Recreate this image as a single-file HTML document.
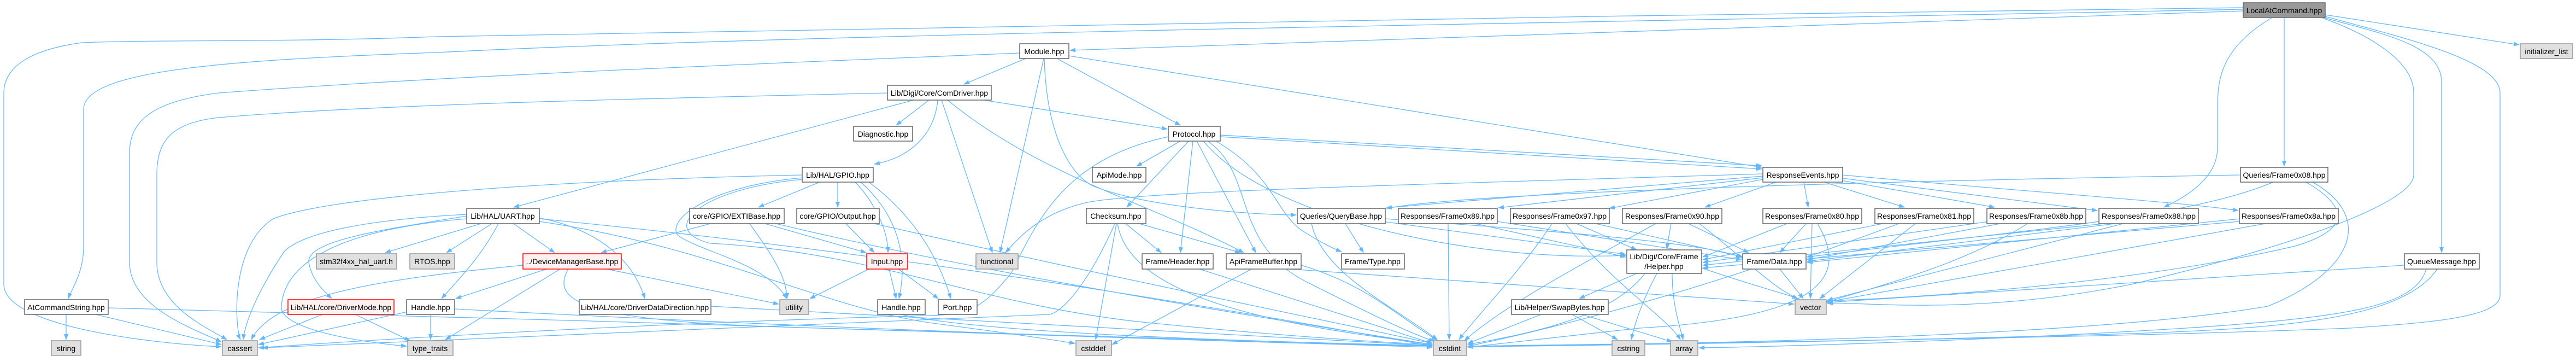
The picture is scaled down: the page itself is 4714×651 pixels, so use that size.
<!DOCTYPE html>
<html><head><meta charset="utf-8">
<style>
html,body{margin:0;padding:0;background:#fff;}
svg{display:block;}
text{font-family:"Liberation Sans",Arial,sans-serif;font-size:14px;fill:#000;text-anchor:middle;}
.e{fill:none;stroke:#63b8ff;stroke-width:1.3;marker-end:url(#a);}
.n{fill:#fff;stroke:#666;stroke-width:1.5;}
.g{fill:#e0e0e0;stroke:#999;stroke-width:1.5;}
.r{fill:#fff0f0;stroke:#ff0000;stroke-width:1.5;}
.m{fill:#999;stroke:#666;stroke-width:1.5;}
</style></head><body>
<svg width="4714" height="651" viewBox="0 0 4714 651" xmlns="http://www.w3.org/2000/svg">
<defs><marker id="a" markerWidth="11" markerHeight="8" refX="10" refY="4" orient="auto" markerUnits="userSpaceOnUse"><path d="M0,0 L11,4 L0,8 z" fill="#63b8ff"/></marker></defs>
<g>
<!-- LocalAtCommand edges -->
<path class="e" d="M4105,20 L1958,92"/>
<path class="e" d="M4105,17 C3000,40 1500,60 800,96 C400,110 153,130 153,200 L153,450 C153,500 130,530 125,546"/>
<path class="e" d="M4105,14 C3000,30 1600,44 800,67 C500,78 300,72 150,78 C60,90 7,120 7,170 L7,520 C7,600 300,630 405,634"/>
<path class="e" d="M4180,32 L4180,304"/>
<path class="e" d="M4158,32 C4060,90 4058,150 4058,200 L4058,270 C4058,330 3990,365 3960,379"/>
<path class="e" d="M4252,32 C4350,60 4468,80 4468,150 L4468,462"/>
<path class="e" d="M4255,27 L4610,82"/>
<path class="e" d="M4250,33 C4300,50 4417,100 4417,170 L4417,320 C4417,370 4200,450 3900,520 C3600,580 3400,550 3344,555"/>
<path class="e" d="M4255,30 C4400,70 4575,110 4575,170 L4575,540 C4575,580 4450,590 4300,600 C3800,620 3000,628 2686,633"/>
<!-- Module -->
<path class="e" d="M1877,107 L1764,154"/>
<path class="e" d="M1910,107 L1830,462"/>
<path class="e" d="M1934,107 L2160,229"/>
<path class="e" d="M1956,102 L3224,306"/>
<path class="e" d="M1911,107 C1915,250 1960,320 2000,340 C2100,380 2300,393 2372,393"/>
<path class="e" d="M1866,97 C1300,120 800,140 400,170 C280,185 237,220 237,280 L237,480 C237,560 350,600 405,625"/>
<!-- ComDriver -->
<path class="e" d="M1624,170 C1200,180 700,190 400,215 C310,225 287,260 287,320 L287,480 C287,560 380,600 415,621"/>
<path class="e" d="M1700,183 L1640,229"/>
<path class="e" d="M1672,183 L940,379"/>
<path class="e" d="M1716,183 C1710,250 1660,290 1600,300"/>
<path class="e" d="M1723,183 L1816,462"/>
<path class="e" d="M1734,183 C1900,320 2100,370 2276,462"/>
<path class="e" d="M1800,183 L2136,236"/>
<!-- Protocol -->
<path class="e" d="M2160,258 L2080,304"/>
<path class="e" d="M2175,258 L2062,379"/>
<path class="e" d="M2183,258 L2160,462"/>
<path class="e" d="M2190,258 L2298,462"/>
<path class="e" d="M2202,258 C2320,400 2700,480 2975,467"/>
<path class="e" d="M2225,258 C2330,320 2330,380 2380,420 C2420,445 2440,455 2455,460"/>
<path class="e" d="M2233,247 L3224,303"/>
<path class="e" d="M2233,250 L3224,309"/>
<path class="e" d="M2138,250 C1950,290 1900,400 1850,500 C1800,560 1780,575 1700,577 C1200,590 700,620 473,636"/>
<path class="e" d="M2210,258 C2300,320 2250,450 2400,520 C2500,570 2580,610 2625,624"/>
<!-- GPIO -->
<path class="e" d="M1468,320 C1000,330 600,360 500,400 C420,450 430,600 440,621"/>
<path class="e" d="M1500,333 L1388,379"/>
<path class="e" d="M1533,333 L1533,379"/>
<path class="e" d="M1565,333 C1600,370 1625,420 1625,462"/>
<path class="e" d="M1575,333 C1650,400 1660,480 1645,546"/>
<path class="e" d="M1590,333 C1680,400 1720,480 1740,546"/>
<path class="e" d="M1468,325 C1300,340 1220,400 1240,430 C1280,460 1400,480 1440,546"/>
<path class="e" d="M1468,328 C1280,345 1200,420 1300,445 C1600,460 1800,560 2100,590 C2300,610 2500,625 2621,630"/>
<!-- UART -->
<path class="e" d="M880,409 L705,462"/>
<path class="e" d="M900,409 L817,462"/>
<path class="e" d="M854,395 C700,420 560,440 565,480 C570,510 590,530 607,546"/>
<path class="e" d="M940,409 L1015,462"/>
<path class="e" d="M912,409 C880,470 840,510 808,546"/>
<path class="e" d="M985,398 C1100,420 1160,480 1180,546"/>
<path class="e" d="M854,392 C700,400 560,420 520,460 C480,520 450,580 445,621"/>
<path class="e" d="M854,400 C620,420 520,480 515,560 C510,600 650,625 744,633"/>
<path class="e" d="M987,400 C1500,450 2000,520 2621,633"/>
<path class="e" d="M987,405 C1300,450 1500,560 1700,590 C1850,610 1920,620 1967,628"/>
<!-- EXTIBase / Output -->
<path class="e" d="M1300,409 L1100,462"/>
<path class="e" d="M1400,409 L1585,462"/>
<path class="e" d="M1372,409 C1400,450 1440,500 1440,546"/>
<path class="e" d="M1420,409 C1800,500 2300,580 2621,630"/>
<path class="e" d="M1548,409 L1600,462"/>
<path class="e" d="M1600,409 C2000,500 2400,580 2621,628"/>
<!-- DeviceManagerBase -->
<path class="e" d="M1000,492 L834,546"/>
<path class="e" d="M1025,492 L815,621"/>
<path class="e" d="M1110,492 L1425,556"/>
<path class="e" d="M957,485 C700,510 500,540 460,621"/>
<path class="e" d="M1040,492 C1000,560 1100,590 1500,600 L2621,633"/>
<!-- Input -->
<path class="e" d="M1627,492 L1640,546"/>
<path class="e" d="M1644,492 L1717,546"/>
<path class="e" d="M1590,492 L1482,546"/>
<!-- row 548 -->
<path class="e" d="M590,575 L475,621"/>
<path class="e" d="M650,575 L750,623"/>
<path class="e" d="M746,570 L473,630"/>
<path class="e" d="M788,575 L788,621"/>
<path class="e" d="M832,565 C1500,600 2200,625 2621,633"/>
<path class="e" d="M121,575 L121,621"/>
<path class="e" d="M175,575 L405,630"/>
<path class="e" d="M198,563 C1000,580 2000,620 2621,635"/>
<path class="e" d="M1301,560 L2621,632"/>
<path class="e" d="M1650,575 C1800,610 2300,625 2621,632"/>
<!-- Checksum / Header / ApiFrameBuffer -->
<path class="e" d="M2060,409 L2125,462"/>
<path class="e" d="M2085,409 L2270,462"/>
<path class="e" d="M2043,409 L2005,621"/>
<path class="e" d="M2040,409 C2000,500 1950,570 1920,575 L480,636"/>
<path class="e" d="M2045,409 C2070,560 2400,600 2621,630"/>
<path class="e" d="M2195,492 L2621,628"/>
<path class="e" d="M2290,492 L2035,630"/>
<path class="e" d="M2360,492 C2800,520 3200,550 3283,556"/>
<path class="e" d="M2381,485 C2500,520 2560,580 2630,622"/>
<!-- QueryBase -->
<path class="e" d="M2462,409 L2495,462"/>
<path class="e" d="M2535,400 C2800,420 3100,440 3187,470"/>
<path class="e" d="M2530,405 L2975,465"/>
<path class="e" d="M2400,409 C2420,500 2550,560 2630,621"/>
<!-- ResponseEvents -->
<path class="e" d="M3301,333 L3309,379"/>
<path class="e" d="M3338,333 L3485,379"/>
<path class="e" d="M3370,330 L3650,379"/>
<path class="e" d="M3372,326 L3838,385"/>
<path class="e" d="M3372,320 C3700,350 4000,370 4096,385"/>
<path class="e" d="M3250,333 L3120,379"/>
<path class="e" d="M3226,328 L2945,381"/>
<path class="e" d="M3226,325 L2742,380"/>
<path class="e" d="M3226,322 L2537,380"/>
<path class="e" d="M3226,318 C2500,340 2100,350 1990,370 C1900,390 1860,440 1840,462"/>
<!-- Queries/Frame0x08 -->
<path class="e" d="M4100,320 C3500,330 2700,350 2537,381"/>
<path class="e" d="M4160,333 C4000,400 3700,420 3307,470"/>
<path class="e" d="M4220,333 C4300,380 4300,420 4200,450 C3900,520 3500,545 3344,550"/>
<path class="e" d="M4232,333 C4350,400 4300,500 4150,560 C3800,620 3000,630 2686,634"/>
<!-- QueueMessage -->
<path class="e" d="M4400,485 L3344,553"/>
<path class="e" d="M4460,492 C4400,580 4200,600 3900,610 C3400,625 2900,632 2686,634"/>
<path class="e" d="M4440,492 C4420,560 4300,580 4000,600 C3600,625 3200,635 3109,636"/>
<!-- Responses frames -->
<path class="e" d="M2700,409 L2975,470"/>
<path class="e" d="M2740,405 L3187,475"/>
<path class="e" d="M2650,409 L2652,621"/>
<path class="e" d="M2840,409 C2780,500 2700,580 2670,621"/>
<path class="e" d="M2885,409 L2995,457"/>
<path class="e" d="M2920,409 L3190,470"/>
<path class="e" d="M2865,409 C2950,520 3050,580 3075,621"/>
<path class="e" d="M3058,409 L3050,455"/>
<path class="e" d="M3090,409 L3200,462"/>
<path class="e" d="M3030,409 C2900,480 2750,560 2680,623"/>
<path class="e" d="M3110,409 C3200,480 3250,530 3290,546"/>
<path class="e" d="M3305,409 L3257,462"/>
<path class="e" d="M3316,409 L3313,546"/>
<path class="e" d="M3270,409 L3116,470"/>
<path class="e" d="M3326,409 C3380,500 3350,580 3000,600 L2686,635"/>
<path class="e" d="M3475,409 L3307,470"/>
<path class="e" d="M3445,409 L3116,475"/>
<path class="e" d="M3505,409 L3330,546"/>
<path class="e" d="M3660,409 L3307,475"/>
<path class="e" d="M3640,405 L3116,480"/>
<path class="e" d="M3710,409 C3600,480 3450,520 3340,553"/>
<path class="e" d="M3870,409 L3307,478"/>
<path class="e" d="M3850,409 L3116,485"/>
<path class="e" d="M3885,409 L3344,549"/>
<path class="e" d="M4100,400 L3307,480"/>
<path class="e" d="M4098,405 L3116,490"/>
<path class="e" d="M4145,409 L3344,552"/>
<!-- Helper / SwapBytes / Data -->
<path class="e" d="M2995,500 L2890,546"/>
<path class="e" d="M3032,500 C3000,560 2990,600 2985,621"/>
<path class="e" d="M3010,500 C2950,580 2800,610 2686,630"/>
<path class="e" d="M3060,500 C3060,560 3075,600 3080,621"/>
<path class="e" d="M3114,490 C3200,520 3260,535 3290,546"/>
<path class="e" d="M2820,575 L2686,628"/>
<path class="e" d="M2877,575 L2960,621"/>
<path class="e" d="M2895,575 L3060,625"/>
<path class="e" d="M3257,492 L3300,546"/>
<path class="e" d="M3205,492 C3000,560 2800,610 2686,633"/>
</g>
<g>
<rect class="m" x="4105" y="5" width="150" height="27"/><text x="4180" y="24">LocalAtCommand.hpp</text>
<rect class="n" x="1866" y="80" width="90" height="27"/><text x="1911" y="99">Module.hpp</text>
<rect class="g" x="4612" y="80" width="96" height="27"/><text x="4660" y="99">initializer_list</text>
<rect class="n" x="1624" y="156" width="190" height="27"/><text x="1719" y="175">Lib/Digi/Core/ComDriver.hpp</text>
<rect class="n" x="1562" y="231" width="108" height="27"/><text x="1616" y="250">Diagnostic.hpp</text>
<rect class="n" x="2138" y="231" width="95" height="27"/><text x="2185" y="250">Protocol.hpp</text>
<rect class="n" x="1468" y="306" width="130" height="27"/><text x="1533" y="325">Lib/HAL/GPIO.hpp</text>
<rect class="n" x="1999" y="306" width="98" height="27"/><text x="2048" y="325">ApiMode.hpp</text>
<rect class="n" x="3226" y="306" width="146" height="27"/><text x="3299" y="325">ResponseEvents.hpp</text>
<rect class="n" x="4100" y="306" width="160" height="27"/><text x="4180" y="325">Queries/Frame0x08.hpp</text>
<rect class="n" x="854" y="381" width="133" height="28"/><text x="920" y="400">Lib/HAL/UART.hpp</text>
<rect class="n" x="1262" y="381" width="173" height="28"/><text x="1348" y="400">core/GPIO/EXTIBase.hpp</text>
<rect class="n" x="1458" y="381" width="151" height="28"/><text x="1533" y="400">core/GPIO/Output.hpp</text>
<rect class="n" x="1988" y="381" width="109" height="28"/><text x="2042" y="400">Checksum.hpp</text>
<rect class="n" x="2374" y="381" width="161" height="28"/><text x="2454" y="400">Queries/QueryBase.hpp</text>
<rect class="n" x="2559" y="381" width="181" height="28"/><text x="2649" y="400">Responses/Frame0x89.hpp</text>
<rect class="n" x="2764" y="381" width="181" height="28"/><text x="2854" y="400">Responses/Frame0x97.hpp</text>
<rect class="n" x="2969" y="381" width="182" height="28"/><text x="3060" y="400">Responses/Frame0x90.hpp</text>
<rect class="n" x="3226" y="381" width="181" height="28"/><text x="3316" y="400">Responses/Frame0x80.hpp</text>
<rect class="n" x="3431" y="381" width="181" height="28"/><text x="3521" y="400">Responses/Frame0x81.hpp</text>
<rect class="n" x="3636" y="381" width="181" height="28"/><text x="3726" y="400">Responses/Frame0x8b.hpp</text>
<rect class="n" x="3841" y="381" width="182" height="28"/><text x="3932" y="400">Responses/Frame0x88.hpp</text>
<rect class="n" x="4098" y="381" width="181" height="28"/><text x="4188" y="400">Responses/Frame0x8a.hpp</text>
<rect class="g" x="579" y="464" width="147" height="28"/><text x="652" y="483">stm32f4xx_hal_uart.h</text>
<rect class="g" x="750" y="464" width="82" height="28"/><text x="791" y="483">RTOS.hpp</text>
<rect class="r" x="957" y="464" width="180" height="28"/><text x="1047" y="483">../DeviceManagerBase.hpp</text>
<rect class="r" x="1586" y="464" width="75" height="28"/><text x="1623" y="483">Input.hpp</text>
<rect class="g" x="1786" y="464" width="77" height="28"/><text x="1824" y="483">functional</text>
<rect class="n" x="2090" y="464" width="130" height="28"/><text x="2155" y="483">Frame/Header.hpp</text>
<rect class="n" x="2244" y="464" width="137" height="28"/><text x="2312" y="483">ApiFrameBuffer.hpp</text>
<rect class="n" x="2455" y="464" width="115" height="28"/><text x="2512" y="483">Frame/Type.hpp</text>
<rect class="n" x="2977" y="457" width="137" height="43"/><text x="3045" y="474">Lib/Digi/Core/Frame</text><text x="3045" y="492">/Helper.hpp</text>
<rect class="n" x="3189" y="464" width="116" height="28"/><text x="3247" y="483">Frame/Data.hpp</text>
<rect class="n" x="4400" y="464" width="137" height="28"/><text x="4468" y="483">QueueMessage.hpp</text>
<rect class="n" x="45" y="548" width="153" height="27"/><text x="121" y="567">AtCommandString.hpp</text>
<rect class="r" x="527" y="548" width="194" height="27"/><text x="624" y="567">Lib/HAL/core/DriverMode.hpp</text>
<rect class="n" x="744" y="548" width="88" height="27"/><text x="788" y="567">Handle.hpp</text>
<rect class="n" x="1060" y="548" width="241" height="27"/><text x="1180" y="567">Lib/HAL/core/DriverDataDirection.hpp</text>
<rect class="g" x="1427" y="548" width="53" height="27"/><text x="1453" y="567">utility</text>
<rect class="n" x="1606" y="548" width="87" height="27"/><text x="1649" y="567">Handle.hpp</text>
<rect class="n" x="1717" y="548" width="71" height="27"/><text x="1752" y="567">Port.hpp</text>
<rect class="n" x="2766" y="548" width="177" height="27"/><text x="2854" y="567">Lib/Helper/SwapBytes.hpp</text>
<rect class="g" x="3285" y="548" width="57" height="27"/><text x="3313" y="567">vector</text>
<rect class="g" x="94" y="623" width="54" height="27"/><text x="121" y="642">string</text>
<rect class="g" x="407" y="623" width="64" height="27"/><text x="439" y="642">cassert</text>
<rect class="g" x="746" y="623" width="83" height="27"/><text x="787" y="642">type_traits</text>
<rect class="g" x="1969" y="623" width="65" height="27"/><text x="2001" y="642">cstddef</text>
<rect class="g" x="2623" y="623" width="61" height="27"/><text x="2653" y="642">cstdint</text>
<rect class="g" x="2950" y="623" width="60" height="27"/><text x="2980" y="642">cstring</text>
<rect class="g" x="3057" y="623" width="50" height="27"/><text x="3082" y="642">array</text>
</g>
</svg>
</body></html>
